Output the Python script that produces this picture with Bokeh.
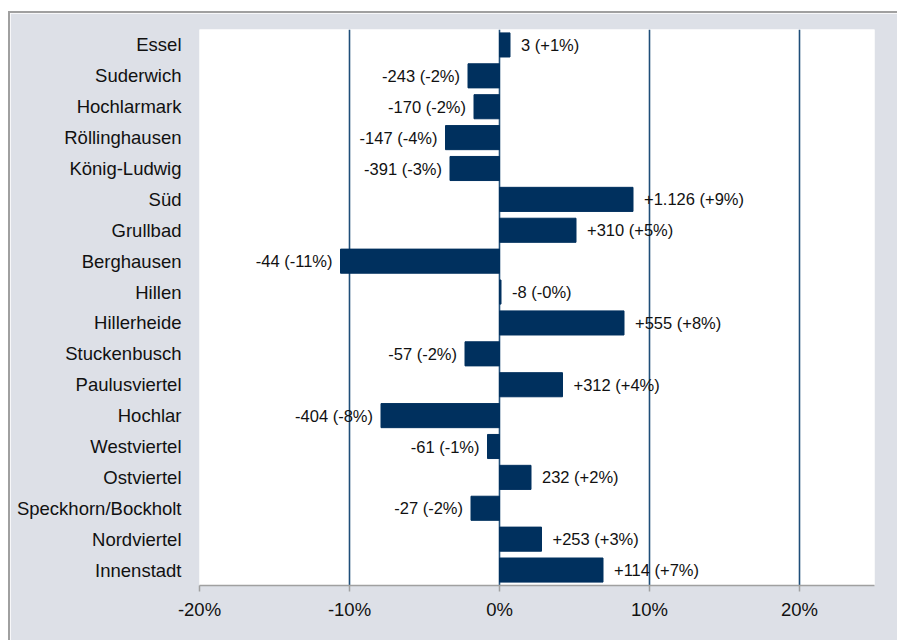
from bokeh.plotting import figure
from bokeh.models import FactorRange, Range1d, FixedTicker, PrintfTickFormatter, ColumnDataSource
from bokeh.core.properties import value
from bokeh.embed import file_html
from bokeh.resources import INLINE

districts = ["Essel", "Suderwich", "Hochlarmark", "Röllinghausen", "König-Ludwig", "Süd",
             "Grullbad", "Berghausen", "Hillen", "Hillerheide", "Stuckenbusch", "Paulusviertel",
             "Hochlar", "Westviertel", "Ostviertel", "Speckhorn/Bockholt", "Nordviertel", "Innenstadt"]
change_pct = [0.7, -2.1, -1.7, -3.6, -3.3, 8.9, 5.1, -10.6, 0.1, 8.3, -2.3, 4.2,
              -7.9, -0.8, 2.1, -1.9, 2.8, 6.9]
labels = ["3 (+1%)", "-243 (-2%)", "-170 (-2%)", "-147 (-4%)", "-391 (-3%)", "+1.126 (+9%)",
          "+310 (+5%)", "-44 (-11%)", "-8 (-0%)", "+555 (+8%)", "-57 (-2%)", "+312 (+4%)",
          "-404 (-8%)", "-61 (-1%)", "232 (+2%)", "-27 (-2%)", "+253 (+3%)", "+114 (+7%)"]
x_ticks = [-20, -10, 0, 10, 20]

FONT = "Liberation Sans"
BAR = "#00305e"
GRID = "#1f4e79"
BG = "#dde0e7"

p = figure(width=889, height=629,
           y_range=FactorRange(factors=list(reversed(districts))),
           x_range=Range1d(-20, 25),
           output_backend="svg", toolbar_location=None,
           min_border_left=189, min_border_right=25, min_border_top=16, min_border_bottom=57)
p.margin = (11, 0, 0, 8)
p.styles = {"border-top": "2px solid #a0a0a0", "border-left": "2px solid #a0a0a0"}
p.border_fill_color = BG
p.background_fill_color = "white"
p.outline_line_color = None

src = ColumnDataSource(dict(d=districts, v=change_pct, lab=labels))
p.hbar(y="d", left=0, right="v", height=0.78, source=src, fill_color=BAR, line_color=BAR)

pos = [i for i, v in enumerate(change_pct) if v >= 0]
neg = [i for i, v in enumerate(change_pct) if v < 0]
src_pos = ColumnDataSource(dict(d=[districts[i] for i in pos], v=[change_pct[i] for i in pos],
                                lab=[labels[i] for i in pos]))
src_neg = ColumnDataSource(dict(d=[districts[i] for i in neg], v=[change_pct[i] for i in neg],
                                lab=[labels[i] for i in neg]))
p.text(x="v", y="d", text="lab", source=src_pos, x_offset=11, text_align="left",
       text_baseline="middle", text_font=value(FONT), text_font_size="16.5px", text_color="#111111")
p.text(x="v", y="d", text="lab", source=src_neg, x_offset=-8, text_align="right",
       text_baseline="middle", text_font=value(FONT), text_font_size="16.5px", text_color="#111111")

# grid
p.ygrid.grid_line_color = None
p.xgrid.ticker = FixedTicker(ticks=x_ticks)
p.xgrid.grid_line_color = GRID
p.xgrid.grid_line_width = 1.6

# x axis
p.xaxis.ticker = FixedTicker(ticks=x_ticks)
p.xaxis.formatter = PrintfTickFormatter(format="%d%%")
p.xaxis.axis_line_color = "#a0a0a0"
p.xaxis.axis_line_width = 1.5
p.xaxis.major_tick_line_color = "#a0a0a0"
p.xaxis.major_tick_line_width = 1.5
p.xaxis.major_tick_in = 0
p.xaxis.major_tick_out = 6
p.xaxis.minor_tick_line_color = None
p.xaxis.major_label_standoff = 7
p.xaxis.major_label_text_font = FONT
p.xaxis.major_label_text_font_size = "18.5px"
p.xaxis.major_label_text_color = "#111111"

# y axis
p.yaxis.axis_line_color = None
p.yaxis.major_tick_line_color = None
p.yaxis.major_tick_in = 0
p.yaxis.major_tick_out = 0
p.yaxis.major_label_standoff = 18
p.yaxis.major_label_text_font = FONT
p.yaxis.major_label_text_font_size = "18.5px"
p.yaxis.major_label_text_color = "#111111"

open("out.html", "w").write(file_html(p, INLINE))
